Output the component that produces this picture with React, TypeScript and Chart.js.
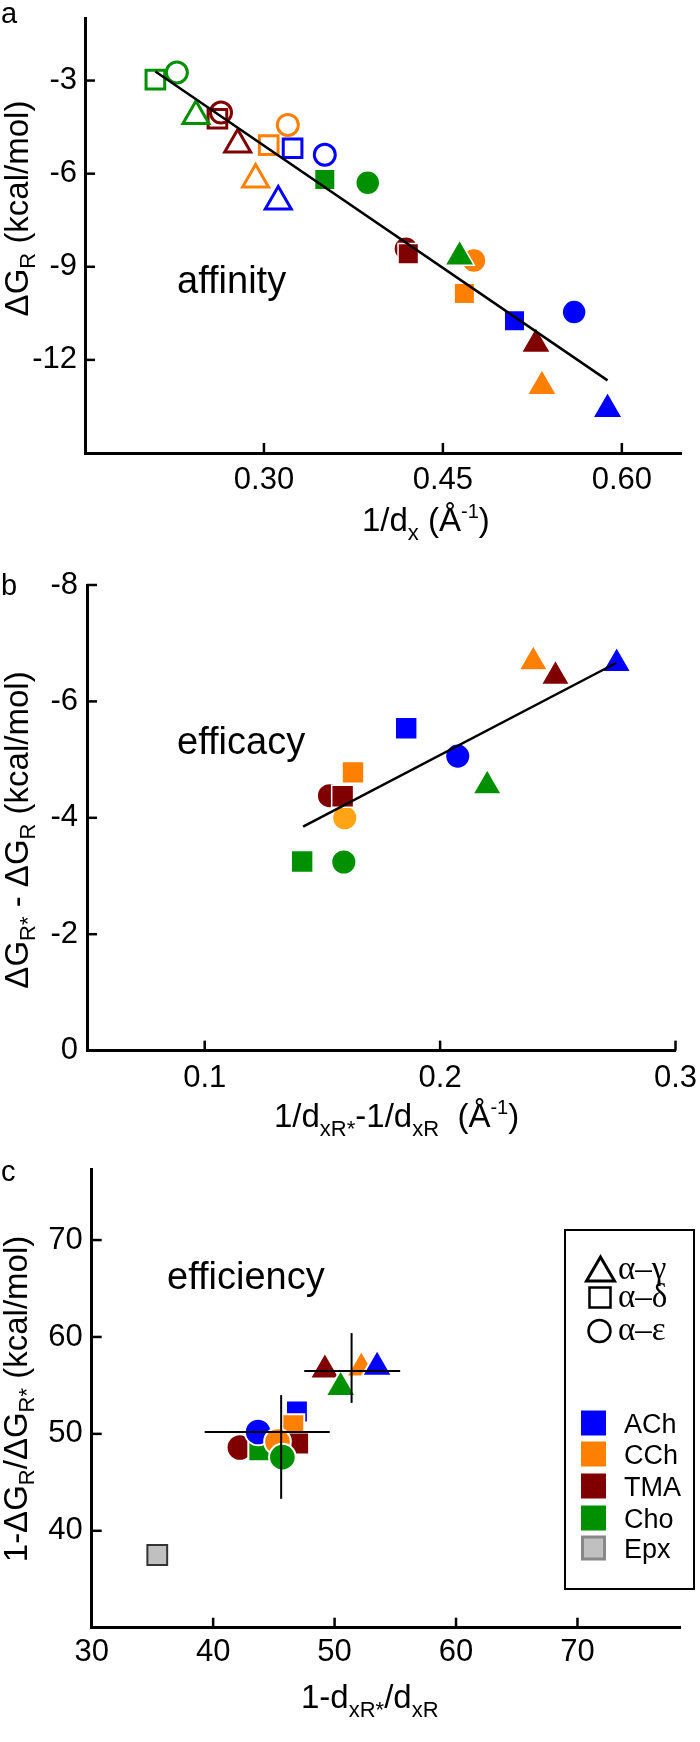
import React, { useEffect, useRef } from "react";
import Chart from "chart.js/auto";

const SANS = '"Liberation Sans", Arial, Helvetica, sans-serif';
const SERIF = '"Liberation Serif", "Times New Roman", serif';

// ---------- categories ----------
const agonists = ["ACh", "CCh", "TMA", "Cho"];
const subunits = ["α–γ", "α–δ", "α–ε"];
const extraLabel = "Epx";

// ---------- panel a: affinity (per agonist: [α–γ, α–δ, α–ε]) ----------
const affinityOpenX = [
  [0.312, 0.324, 0.351],
  [0.293, 0.304, 0.32],
  [0.278, 0.261, 0.264],
  [0.243, 0.209, 0.227],
];
const affinityOpenY = [
  [-6.9, -5.18, -5.39],
  [-6.19, -5.08, -4.43],
  [-5.06, -4.23, -4.03],
  [-4.14, -2.97, -2.74],
];
const affinityFilledX = [
  [0.588, 0.51, 0.56],
  [0.533, 0.468, 0.476],
  [0.528, 0.421, 0.419],
  [0.464, 0.351, 0.387],
];
const affinityFilledY = [
  [-13.59, -10.74, -10.46],
  [-12.85, -9.86, -8.8],
  [-11.49, -8.58, -8.42],
  [-8.68, -6.19, -6.29],
];
const affinityFitX = [0.209, 0.588];
const affinityFitY = [-2.71, -12.66];
const affinityXTicks = [0.3, 0.45, 0.6];
const affinityYTicks = [-3, -6, -9, -12];

// ---------- panel b: efficacy ----------
const efficacyX = [
  [0.275, 0.1856, 0.2075],
  [0.2396, 0.163, 0.1595],
  [0.249, 0.1586, 0.153],
  [0.22, 0.1414, 0.1591],
];
const efficacyY = [
  [-6.65, -5.54, -5.06],
  [-6.68, -4.78, -4.0],
  [-6.43, -4.37, -4.38],
  [-4.55, -3.25, -3.24],
];
const efficacyFitX = [0.1418, 0.2748];
const efficacyFitY = [-3.85, -6.66];
const efficacyXTicks = [0.1, 0.2, 0.3];
const efficacyYTicks = [-8, -6, -4, -2, 0];

// ---------- panel c: efficiency ----------
const efficiencyX = [
  [53.5, 46.9, 43.7],
  [52.2, 46.6, 45.3],
  [49.2, 47.0, 42.2],
  [50.5, 43.8, 45.7],
];
const efficiencyY = [
  [56.9, 52.3, 50.2],
  [56.8, 50.9, 49.2],
  [56.6, 49.0, 48.6],
  [54.8, 48.3, 47.6],
];
const epxX = [35.4];
const epxY = [37.5];
const crossCenterX = [51.4, 45.6];
const crossCenterY = [56.5, 50.2];
const crossXLow = [47.5, 39.3];
const crossXHigh = [55.4, 49.6];
const crossYLow = [53.2, 43.3];
const crossYHigh = [60.4, 54.0];
const efficiencyXTicks = [30, 40, 50, 60, 70];
const efficiencyYTicks = [40, 50, 60, 70];

// ---------- styles ----------
const COLORS = ["#0000FF", "#FF8000", "#800000", "#009000"];
const CCH_CIRCLE_B = "#FFA414";
const EPX_FILL = "#C0C0C0";
const STYLES = ["triangle", "rect", "circle"];

type Pair = [number, number];
const orderA_open: Pair[] = [
  [0, 2], [1, 2], [2, 2], [3, 2],
  [0, 1], [1, 1], [2, 1], [3, 1],
  [0, 0], [1, 0], [2, 0], [3, 0],
];
const orderA_filled: Pair[] = [
  [0, 2], [1, 2], [2, 2], [3, 2],
  [0, 1], [1, 1], [2, 1], [3, 1],
  [0, 0], [1, 0], [2, 0], [3, 0],
];
const orderB: Pair[] = [
  [0, 2], [1, 2], [2, 2], [3, 2],
  [0, 1], [1, 1], [2, 1], [3, 1],
  [0, 0], [1, 0], [2, 0], [3, 0],
];
const orderC: Pair[] = [
  [0, 1], [1, 1], [2, 2], [3, 1], [0, 2], [2, 1], [1, 2], [3, 2],
  [2, 0], [1, 0], [0, 0], [3, 0],
];

function markers(
  xs: number[][], ys: number[][], order: Pair[], radii: number[],
  filled: boolean, edge: number, colorFn?: (a: number, s: number) => string
) {
  const col = (a: number, s: number) => (colorFn ? colorFn(a, s) : COLORS[a]);
  return {
    type: "scatter",
    data: order.map(([a, s]) => ({ x: xs[a][s], y: ys[a][s] })),
    pointStyle: order.map(([, s]) => STYLES[s]),
    pointRadius: order.map(([, s]) => radii[s]),
    pointHoverRadius: order.map(([, s]) => radii[s]),
    pointBackgroundColor: filled ? order.map(([a, s]) => col(a, s)) : "rgba(0,0,0,0)",
    pointBorderColor: filled ? "#ffffff" : order.map(([a, s]) => col(a, s)),
    pointBorderWidth: edge,
    showLine: false,
    order: 2,
    clip: false,
  };
}

function line(xs: number[], ys: number[], width: number) {
  return {
    type: "scatter",
    data: xs.map((x, i) => ({ x, y: ys[i] })),
    showLine: true,
    borderColor: "#000",
    borderWidth: width,
    pointRadius: 0,
    pointHoverRadius: 0,
    order: 0,
    clip: false,
  };
}

type Seg = { t: string; s: number; dy?: number; f?: string };
function drawRich(ctx: CanvasRenderingContext2D, segs: Seg[], x: number, y: number, center: boolean, rot = 0) {
  ctx.save();
  ctx.translate(x, y);
  ctx.rotate(rot);
  ctx.fillStyle = "#000";
  ctx.textBaseline = "alphabetic";
  ctx.textAlign = "left";
  let w = 0;
  for (const g of segs) {
    ctx.font = `${g.s}px ${g.f || SANS}`;
    w += ctx.measureText(g.t).width;
  }
  let cx = center ? -w / 2 : 0;
  for (const g of segs) {
    ctx.font = `${g.s}px ${g.f || SANS}`;
    ctx.fillText(g.t, cx, g.dy || 0);
    cx += ctx.measureText(g.t).width;
  }
  ctx.restore();
}

const inwardTicks = {
  id: "inwardTicks",
  beforeDatasetsDraw(chart: any) {
    const { ctx, chartArea, scales } = chart;
    ctx.save();
    ctx.strokeStyle = "#000";
    ctx.lineWidth = 2.5;
    for (const t of scales.x.ticks) {
      const px = scales.x.getPixelForValue(t.value);
      ctx.beginPath();
      ctx.moveTo(px, chartArea.bottom);
      ctx.lineTo(px, chartArea.bottom - 10);
      ctx.stroke();
    }
    for (const t of scales.y.ticks) {
      const py = scales.y.getPixelForValue(t.value);
      ctx.beginPath();
      ctx.moveTo(chartArea.left, py);
      ctx.lineTo(chartArea.left + 10, py);
      ctx.stroke();
    }
    ctx.restore();
  },
};

type AxisSpec = {
  min: number; max: number; ticks: number[]; fmt: (v: number) => string;
  pad: number; size: number; reverse?: boolean;
};

function axis(spec: AxisSpec, isX: boolean) {
  return {
    type: "linear",
    bounds: "data",
    min: spec.min,
    max: spec.max,
    reverse: !!spec.reverse,
    grid: { display: false, drawTicks: false },
    border: { display: true, color: "#000", width: 3 },
    ticks: {
      autoSkip: false,
      maxRotation: 0,
      minRotation: 0,
      padding: spec.pad,
      color: "#000",
      font: { family: SANS, size: 31, lineHeight: 1 },
      callback: (v: any) => spec.fmt(Number(v)),
    },
    afterBuildTicks: (s: any) => {
      s.ticks = spec.ticks.map((v) => ({ value: v }));
    },
    afterFit: (s: any) => {
      if (isX) s.height = spec.size;
      else s.width = spec.size;
      s.paddingLeft = 0;
      s.paddingRight = 0;
      s.paddingTop = 0;
      s.paddingBottom = 0;
    },
  };
}

type Panel = {
  top: number; height: number;
  area: { left: number; top: number; right: number; bottom: number };
  x: Omit<AxisSpec, "size">; y: Omit<AxisSpec, "size">;
  datasets: any[];
  decorate: (ctx: CanvasRenderingContext2D, off: number) => void;
};

function config(p: Panel) {
  return {
    type: "scatter",
    data: { datasets: p.datasets },
    options: {
      animation: false,
      responsive: false,
      maintainAspectRatio: false,
      devicePixelRatio: 1,
      events: [],
      layout: {
        padding: { left: 0, top: p.area.top - p.top, right: 700 - p.area.right, bottom: 0 },
      },
      plugins: { legend: { display: false }, tooltip: { enabled: false } },
      scales: {
        x: axis({ ...p.x, size: p.top + p.height - p.area.bottom }, true),
        y: axis({ ...p.y, size: p.area.left }, false),
      },
    },
    plugins: [
      inwardTicks,
      {
        id: "decor",
        afterDraw(chart: any) {
          p.decorate(chart.ctx, p.top);
        },
      },
    ],
  };
}

function text(ctx: CanvasRenderingContext2D, t: string, x: number, y: number, size: number, font = SANS) {
  ctx.save();
  ctx.fillStyle = "#000";
  ctx.font = `${size}px ${font}`;
  ctx.textBaseline = "alphabetic";
  ctx.textAlign = "left";
  ctx.fillText(t, x, y);
  ctx.restore();
}

const R90 = -Math.PI / 2;

const panelA: Panel = {
  top: 0,
  height: 548,
  area: { left: 85, top: 0, right: 685, bottom: 453 },
  x: { min: 0.15, max: 0.65, ticks: affinityXTicks, fmt: (v) => v.toFixed(2), pad: 12 },
  y: { min: -15, max: -1, ticks: affinityYTicks, fmt: (v) => String(v), pad: 8 },
  datasets: [
    line(affinityFitX, affinityFitY, 2.5),
    markers(affinityOpenX, affinityOpenY, orderA_open, [15, 13.2, 10.5], false, 3),
    markers(affinityFilledX, affinityFilledY, orderA_filled, [17, 14.5, 12], true, 1.5),
  ],
  decorate: (ctx, off) => {
    text(ctx, "a", 1, 23 - off, 29);
    text(ctx, "affinity", 177, 293 - off, 38);
    drawRich(ctx, [{ t: "ΔG", s: 33 }, { t: "R", s: 22, dy: 7 }, { t: " (kcal/mol)", s: 33 }], 28, 208.5 - off, true, R90);
    drawRich(
      ctx,
      [{ t: "1/d", s: 33 }, { t: "x", s: 22, dy: 9 }, { t: " (Å", s: 33 }, { t: "-1", s: 20, dy: -13 }, { t: ")", s: 33 }],
      362, 531 - off, false
    );
  },
};

const panelB: Panel = {
  top: 548,
  height: 602,
  area: { left: 87, top: 585, right: 675.5, bottom: 1050.6 },
  x: { min: 0.05, max: 0.3, ticks: efficacyXTicks, fmt: (v) => v.toFixed(1), pad: 12 },
  y: { min: -8, max: 0, ticks: efficacyYTicks, fmt: (v) => String(v), pad: 9, reverse: true },
  datasets: [
    line(efficacyFitX, efficacyFitY, 2.5),
    markers(efficacyX, efficacyY, orderB, [16.5, 15.5, 12.3], true, 1.5, (a, s) =>
      a === 1 && s === 2 ? CCH_CIRCLE_B : COLORS[a]
    ),
  ],
  decorate: (ctx, off) => {
    text(ctx, "b", 1, 595 - off, 29);
    text(ctx, "efficacy", 177, 754 - off, 38);
    drawRich(
      ctx,
      [{ t: "ΔG", s: 33 }, { t: "R*", s: 22, dy: 7 }, { t: " - ΔG", s: 33 }, { t: "R", s: 22, dy: 7 }, { t: " (kcal/mol)", s: 33 }],
      28, 830 - off, true, R90
    );
    drawRich(
      ctx,
      [
        { t: "1/d", s: 33 }, { t: "xR*", s: 22, dy: 9 }, { t: "-1/d", s: 33 }, { t: "xR", s: 22, dy: 9 },
        { t: "  (Å", s: 33 }, { t: "-1", s: 20, dy: -13 }, { t: ")", s: 33 },
      ],
      274, 1127 - off, false
    );
  },
};

const LEGEND_SHAPE_Y = [1269, 1297.5, 1331];
const LEGEND_SHAPE_TEXT_Y = [1279, 1307, 1340];
const LEGEND_ROW_Y = [1423, 1454, 1486, 1518, 1548];

function drawLegend(ctx: CanvasRenderingContext2D, off: number) {
  ctx.save();
  ctx.strokeStyle = "#000";
  ctx.lineWidth = 2;
  ctx.strokeRect(565, 1230 - off, 129, 359);
  ctx.lineWidth = 3;
  const ty = LEGEND_SHAPE_Y[0] - off;
  ctx.beginPath();
  ctx.moveTo(600.5, ty - 12);
  ctx.lineTo(614.5, ty + 12);
  ctx.lineTo(586.5, ty + 12);
  ctx.closePath();
  ctx.stroke();
  ctx.lineWidth = 2.5;
  ctx.strokeRect(589.5, LEGEND_SHAPE_Y[1] - off - 10, 21, 20);
  ctx.beginPath();
  ctx.arc(599.5, LEGEND_SHAPE_Y[2] - off, 11, 0, Math.PI * 2);
  ctx.stroke();
  ctx.restore();
  subunits.forEach((s, i) => text(ctx, s, 618, LEGEND_SHAPE_TEXT_Y[i] - off, 33, SERIF));
  const labels = [...agonists, extraLabel];
  labels.forEach((lab, i) => {
    const cy = LEGEND_ROW_Y[i] - off;
    ctx.save();
    if (i < 4) {
      ctx.fillStyle = COLORS[i];
      ctx.fillRect(581, cy - 12.5, 25, 25);
    } else {
      ctx.fillStyle = EPX_FILL;
      ctx.fillRect(582.5, cy - 11, 22, 22);
      ctx.strokeStyle = "#888";
      ctx.lineWidth = 3;
      ctx.strokeRect(582.5, cy - 11, 22, 22);
    }
    ctx.restore();
    text(ctx, lab, 624, cy + 9.5, 27);
  });
}

const crossDatasets = crossCenterX.flatMap((cx, i) => [
  line([crossXLow[i], crossXHigh[i]], [crossCenterY[i], crossCenterY[i]], 2),
  line([cx, cx], [crossYLow[i], crossYHigh[i]], 2),
]);

const panelC: Panel = {
  top: 1150,
  height: 592,
  area: { left: 91.7, top: 1166, right: 693, bottom: 1627.7 },
  x: { min: 30, max: 78.5, ticks: efficiencyXTicks, fmt: (v) => String(v), pad: 9 },
  y: { min: 30, max: 77.3, ticks: efficiencyYTicks, fmt: (v) => String(v), pad: 9 },
  datasets: [
    ...crossDatasets,
    {
      type: "scatter",
      data: epxX.map((x, i) => ({ x, y: epxY[i] })),
      pointStyle: "rect",
      pointRadius: 14,
      pointBackgroundColor: EPX_FILL,
      pointBorderColor: "#333",
      pointBorderWidth: 2,
      order: 2,
    },
    markers(efficiencyX, efficiencyY, orderC, [17.3, 15.5, 13.3], true, 2),
  ],
  decorate: (ctx, off) => {
    text(ctx, "c", 1, 1181 - off, 29);
    text(ctx, "efficiency", 167, 1289 - off, 38);
    drawRich(
      ctx,
      [{ t: "1-ΔG", s: 33 }, { t: "R", s: 22, dy: 7 }, { t: "/ΔG", s: 33 }, { t: "R*", s: 22, dy: 7 }, { t: " (kcal/mol)", s: 33 }],
      27, 1399 - off, true, R90
    );
    drawRich(
      ctx,
      [{ t: "1-d", s: 33 }, { t: "xR*", s: 22, dy: 9 }, { t: "/d", s: 33 }, { t: "xR", s: 22, dy: 9 }],
      301, 1708 - off, false
    );
    drawLegend(ctx, off);
  },
};

const PANELS = [panelA, panelB, panelC];

export default function App() {
  const refs = [useRef<HTMLCanvasElement>(null), useRef<HTMLCanvasElement>(null), useRef<HTMLCanvasElement>(null)];
  useEffect(() => {
    const charts = PANELS.map((p, i) => new Chart(refs[i].current as HTMLCanvasElement, config(p) as any));
    return () => charts.forEach((c) => c.destroy());
  }, []);
  return (
    <div style={{ position: "absolute", left: 0, top: 0, width: 700, height: 1742, background: "#fff", overflow: "hidden" }}>
      {PANELS.map((p, i) => (
        <canvas
          key={i}
          ref={refs[i]}
          width={700}
          height={p.height}
          style={{ position: "absolute", left: 0, top: p.top, width: 700, height: p.height, display: "block" }}
        />
      ))}
    </div>
  );
}
